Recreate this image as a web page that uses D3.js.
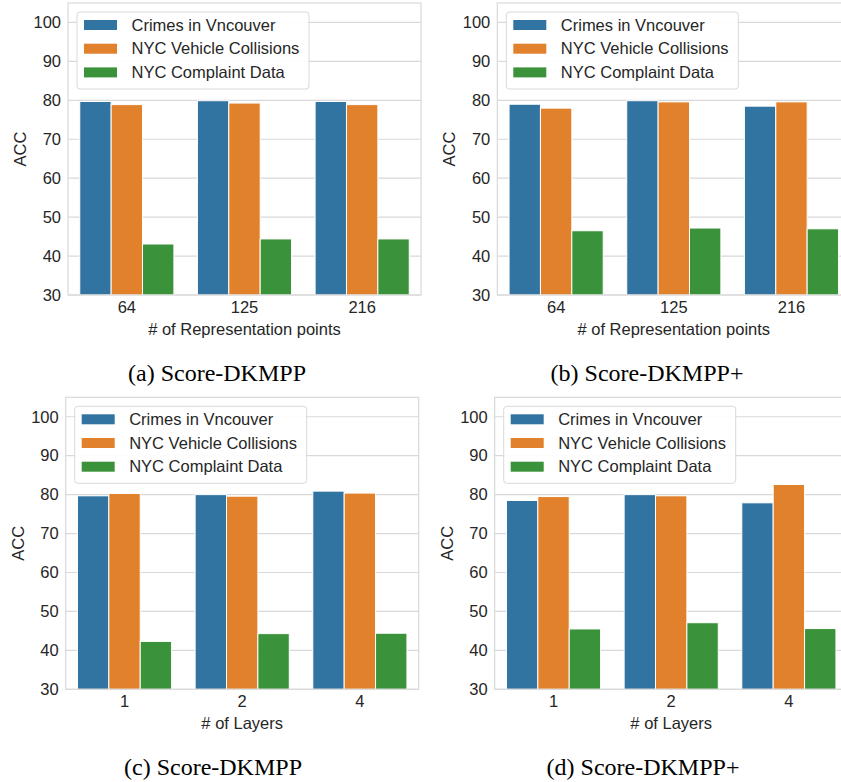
<!DOCTYPE html>
<html>
<head>
<meta charset="utf-8">
<script src="https://cdn.jsdelivr.net/npm/d3@7"></script>
<style>
  html, body { margin: 0; padding: 0; background: #fff; overflow: hidden; }
  svg { display: block; font-family: "Liberation Sans", Arial, sans-serif; }
</style>
</head>
<body>
<svg id="fig" width="841" height="782"></svg>
<script>
// series / categories
const seriesNames = ["Crimes in Vncouver", "NYC Vehicle Collisions", "NYC Complaint Data"];
const seriesColors = ["#3274a1", "#e1812c", "#3a923a"];
const pointCats = ["64", "125", "216"];
const layerCats = ["1", "2", "4"];
const yTicks = [30, 40, 50, 60, 70, 80, 90, 100];

// values per series, per category
const accA = [[79.7, 79.9, 79.7], [78.9, 79.3, 78.9], [43.1, 44.4, 44.4]];
const accB = [[79.0, 79.9, 78.5], [78.0, 79.6, 79.6], [46.5, 47.2, 47.0]];
const accC = [[79.7, 80.0, 80.9], [80.3, 79.6, 80.4], [42.3, 44.3, 44.4]];
const accD = [[78.5, 80.0, 77.9], [79.5, 79.7, 82.6], [45.5, 47.1, 45.6]];

const panels = [
  { x: 68, y: 3, cats: pointCats, vals: accA, xlab: "# of Representation points", cap: "(a) Score-DKMPP", capX: 217, capY: 373 },
  { x: 497.3, y: 3, cats: pointCats, vals: accB, xlab: "# of Representation points", cap: "(b) Score-DKMPP+", capX: 647, capY: 373 },
  { x: 65.7, y: 397.3, cats: layerCats, vals: accC, xlab: "# of Layers", cap: "(c) Score-DKMPP", capX: 213, capY: 767 },
  { x: 494.7, y: 397.3, cats: layerCats, vals: accD, xlab: "# of Layers", cap: "(d) Score-DKMPP+", capX: 643, capY: 767 }
];

const W = 353, H = 292, FS = 16.5;
const svg = d3.select("#fig");
const grid = "#d9d9d9", ink = "#262626";

panels.forEach((p) => {
  const g = svg.append("g").attr("transform", `translate(${p.x},${p.y})`);
  const x = d3.scaleBand().domain(p.cats).range([0, W]).paddingInner(0.2).paddingOuter(0.1);
  const xs = d3.scaleBand().domain(d3.range(seriesNames.length)).range([0, x.bandwidth()]);
  const y = d3.scaleLinear().domain([30, 105]).range([H, 0]);

  // grid
  g.append("g").selectAll("line").data(yTicks).join("line")
    .attr("x1", 0).attr("x2", W).attr("y1", (d) => y(d)).attr("y2", (d) => y(d))
    .attr("stroke", grid).attr("stroke-width", 1.2);

  // bars
  seriesNames.forEach((s, si) => {
    g.append("g").selectAll("rect").data(p.vals[si]).join("rect")
      .attr("x", (d, i) => x(p.cats[i]) + xs(si))
      .attr("width", xs.bandwidth())
      .attr("y", (d) => y(d))
      .attr("height", (d) => y(30) - y(d))
      .attr("fill", seriesColors[si])
      .attr("stroke", "#fff").attr("stroke-width", 1);
  });

  // frame
  g.append("rect").attr("x", 0).attr("y", 0).attr("width", W).attr("height", H)
    .attr("fill", "none").attr("stroke", grid).attr("stroke-width", 1.2);

  // y axis
  const ya = g.append("g").call(d3.axisLeft(y).tickValues(yTicks).tickSize(0).tickPadding(7));
  ya.select(".domain").remove();
  ya.selectAll("text").attr("font-size", FS).attr("fill", ink).attr("font-family", "Liberation Sans, Arial, sans-serif");

  // x axis
  const xa = g.append("g").attr("transform", `translate(0,${H})`).call(d3.axisBottom(x).tickSize(0).tickPadding(6));
  xa.select(".domain").remove();
  xa.selectAll("text").attr("font-size", FS).attr("fill", ink).attr("font-family", "Liberation Sans, Arial, sans-serif");

  g.append("text").attr("x", W / 2).attr("y", H + 40).attr("text-anchor", "middle")
    .attr("font-size", FS).attr("fill", ink).text(p.xlab);
  g.append("text").attr("transform", `translate(-42,${H / 2}) rotate(-90)`).attr("text-anchor", "middle")
    .attr("font-size", FS).attr("fill", ink).text("ACC");

  // legend
  const lg = g.append("g").attr("transform", "translate(9,9)");
  lg.append("rect").attr("width", 232).attr("height", 77).attr("rx", 3)
    .attr("fill", "#fff").attr("fill-opacity", 0.9).attr("stroke", "#d9d9d9");
  seriesNames.forEach((s, si) => {
    lg.append("rect").attr("x", 7).attr("y", 8 + si * 23.7).attr("width", 33).attr("height", 10)
      .attr("fill", seriesColors[si]);
    lg.append("text").attr("x", 54.5).attr("y", 13 + si * 23.7).attr("dy", "0.35em")
      .attr("font-size", FS).attr("fill", ink).text(s);
  });

  svg.append("text").attr("x", p.capX).attr("y", p.capY).attr("dy", "0.35em").attr("text-anchor", "middle")
    .attr("font-family", "Liberation Serif, Times New Roman, serif").attr("font-size", 24).attr("fill", "#000")
    .text(p.cap);
});
</script>
</body>
</html>
